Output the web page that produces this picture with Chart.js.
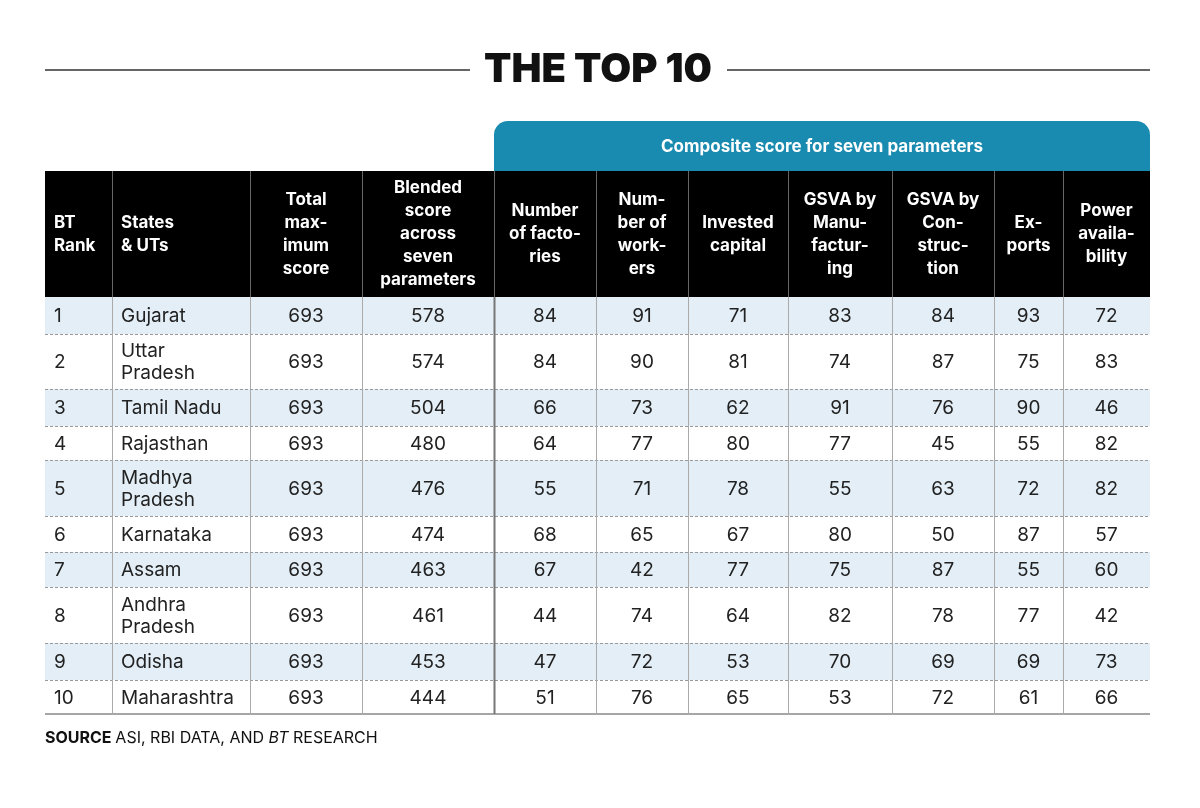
<!DOCTYPE html>
<html><head><meta charset="utf-8">
<script src="https://cdn.jsdelivr.net/npm/chart.js@4/dist/chart.umd.min.js"></script>
<style>html,body{margin:0;background:#fff}#wrap{width:1200px;height:808px}</style>
</head><body><div id="wrap"><canvas id="c" width="1200" height="808"></canvas></div>
<script>
// data
const ranks = ['1','2','3','4','5','6','7','8','9','10'];
const states = [['Gujarat'],['Uttar','Pradesh'],['Tamil Nadu'],['Rajasthan'],['Madhya','Pradesh'],['Karnataka'],['Assam'],['Andhra','Pradesh'],['Odisha'],['Maharashtra']];
const totalMax = [693,693,693,693,693,693,693,693,693,693];
const blended = [578,574,504,480,476,474,463,461,453,444];
const factories = [84,84,66,64,55,68,67,44,47,51];
const workers = [91,90,73,77,71,65,42,74,72,76];
const capital = [71,81,62,80,78,67,77,64,53,65];
const gsvaManu = [83,74,91,77,55,80,75,82,70,53];
const gsvaCons = [84,87,76,45,63,50,87,78,69,72];
const exportsScore = [93,75,90,55,72,87,55,77,69,61];
const power = [72,83,46,82,82,57,60,42,73,66];
const headers = [['BT','Rank'],['States','& UTs'],['Total','max-','imum','score'],['Blended','score','across','seven','parameters'],
  ['Number','of facto-','ries'],['Num-','ber of','work-','ers'],['Invested','capital'],['GSVA by','Manu-','factur-','ing'],
  ['GSVA by','Con-','struc-','tion'],['Ex-','ports'],['Power','availa-','bility']];
const columns = [ranks, states, totalMax, blended, factories, workers, capital, gsvaManu, gsvaCons, exportsScore, power];

// layout
const colWidths = [67,138,112,132,102,92,100,104,102,69,87];
const headH = 126;
const rowHeights = [37,55,37,34,56,36,35,56,37,34];
const totalW = colWidths.reduce((a,b)=>a+b,0);
const totalH = headH + rowHeights.reduce((a,b)=>a+b,0);
const colEdges = colWidths.reduce((a,w)=>{a.push(a[a.length-1]+w);return a;},[0]);
const rowEdges = rowHeights.reduce((a,h)=>{a.push(a[a.length-1]+h);return a;},[headH]);
const SANS = 'Inter, "Liberation Sans", sans-serif';

const tablePlugin = {
  id: 'table',
  afterDraw(chart) {
    const ctx = chart.ctx, xs = chart.scales.x, ys = chart.scales.y;
    const X = v => xs.getPixelForValue(v), Y = v => ys.getPixelForValue(v);
    ctx.save();
    // title
    ctx.fillStyle = '#111'; ctx.font = '900 40px ' + SANS;
    ctx.textAlign = 'center'; ctx.textBaseline = 'middle';
    ctx.fillText('THE TOP 10', 598, 70);
    ctx.strokeStyle = '#333'; ctx.lineWidth = 1.5;
    ctx.beginPath(); ctx.moveTo(45,70); ctx.lineTo(470,70); ctx.moveTo(727,70); ctx.lineTo(1150,70); ctx.stroke();
    // teal header
    const tx0 = X(colEdges[4]), tx1 = X(totalW), ty0 = 121, ty1 = Y(0);
    ctx.fillStyle = '#1a8bb0';
    ctx.beginPath(); ctx.roundRect(tx0, ty0, tx1 - tx0, ty1 - ty0 + 1, [14,14,0,0]); ctx.fill();
    ctx.fillStyle = '#fff'; ctx.font = 'bold 17px ' + SANS;
    ctx.fillText('Composite score for seven parameters', (tx0+tx1)/2, 147);
    // black header
    ctx.fillStyle = '#000';
    ctx.fillRect(X(0), Y(0), X(totalW)-X(0), Y(headH)-Y(0));
    // stripes
    ctx.fillStyle = '#e3eef6';
    rowHeights.forEach((h,i)=>{ if(i%2===0) ctx.fillRect(X(0), Y(rowEdges[i]), X(totalW)-X(0), Y(rowEdges[i+1])-Y(rowEdges[i])); });
    // header text
    ctx.fillStyle = '#fff'; ctx.font = 'bold 17px ' + SANS;
    headers.forEach((lines,c)=>{
      const left = c < 2;
      ctx.textAlign = left ? 'left' : 'center';
      const x = left ? X(colEdges[c]) + 9 : (X(colEdges[c]) + X(colEdges[c+1]))/2;
      const cy = (Y(0)+Y(headH))/2, lh = 23;
      lines.forEach((t,k)=>ctx.fillText(t, x, cy + (k - (lines.length-1)/2)*lh));
    });
    // body text
    ctx.fillStyle = '#222'; ctx.font = '19px ' + SANS;
    columns.forEach((col,c)=>{
      const left = c < 2;
      ctx.textAlign = left ? 'left' : 'center';
      const x = left ? X(colEdges[c]) + 9 : (X(colEdges[c]) + X(colEdges[c+1]))/2;
      col.forEach((v,r)=>{
        const lines = Array.isArray(v) ? v : [String(v)];
        const cy = (Y(rowEdges[r])+Y(rowEdges[r+1]))/2 + 1, lh = 22;
        lines.forEach((t,k)=>ctx.fillText(t, x, cy + (k-(lines.length-1)/2)*lh));
      });
    });
    // row separators
    ctx.strokeStyle = '#999'; ctx.lineWidth = 1; ctx.setLineDash([3,2]);
    for (let i=1;i<rowHeights.length;i++){ const y=Math.round(Y(rowEdges[i]))+0.5; ctx.beginPath(); ctx.moveTo(X(0),y); ctx.lineTo(X(totalW),y); ctx.stroke(); }
    ctx.setLineDash([]);
    ctx.strokeStyle = '#888'; ctx.lineWidth = 1.5;
    ctx.beginPath(); ctx.moveTo(X(0),Y(totalH)); ctx.lineTo(X(totalW),Y(totalH)); ctx.stroke();
    // vertical dividers
    for (let c=1;c<colWidths.length;c++){
      const x = Math.round(X(colEdges[c]))+0.5;
      ctx.strokeStyle = c===4 ? '#777' : '#aaa'; ctx.lineWidth = c===4 ? 2 : 1;
      ctx.beginPath(); ctx.moveTo(x, Y(headH)); ctx.lineTo(x, Y(totalH)); ctx.stroke();
      ctx.strokeStyle = '#666'; ctx.lineWidth = 1;
      ctx.beginPath(); ctx.moveTo(x, Y(0)); ctx.lineTo(x, Y(headH)); ctx.stroke();
    }
    // source
    ctx.textAlign = 'left'; ctx.fillStyle = '#111';
    let sx = 45; const sy = 738;
    [['bold 16px ','SOURCE '],['16px ','ASI, RBI DATA, AND '],['italic 16px ','BT'],['16px ',' RESEARCH']].forEach(([f,t])=>{
      ctx.font = f + SANS; ctx.fillText(t, sx, sy); sx += ctx.measureText(t).width;
    });
    ctx.restore();
  }
};

new Chart(document.getElementById('c'), {
  type: 'scatter',
  data: { datasets: [{ data: [] }] },
  options: {
    responsive: false, animation: false, devicePixelRatio: 1,
    layout: { padding: { left: 45, right: 50, top: 171, bottom: 94 } },
    plugins: { legend: { display: false }, tooltip: { enabled: false } },
    scales: {
      x: { type: 'linear', min: 0, max: totalW, display: false },
      y: { type: 'linear', min: 0, max: totalH, reverse: true, display: false }
    }
  },
  plugins: [tablePlugin]
});
</script></body></html>
